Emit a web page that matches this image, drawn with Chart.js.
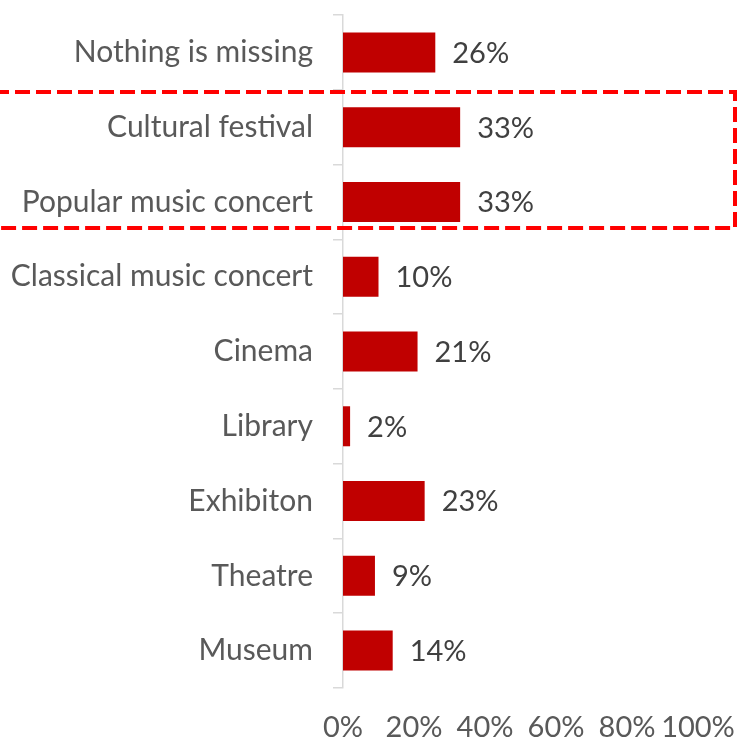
<!DOCTYPE html>
<html>
<head>
<meta charset="utf-8">
<script src="https://cdn.jsdelivr.net/npm/chart.js@4"></script>
<style>
  html, body { margin: 0; padding: 0; background: #ffffff; }
  #wrap { width: 740px; height: 743px; position: relative; }
</style>
</head>
<body>
<div id="wrap"><canvas id="chart"></canvas></div>
<script>
// Categories, top to bottom
const categories = [
  "Nothing is missing",
  "Cultural festival",
  "Popular music concert",
  "Classical music concert",
  "Cinema",
  "Library",
  "Exhibiton",
  "Theatre",
  "Museum"
];
// Share of respondents, percent
const shares = [26, 33, 33, 10, 21, 2, 23, 9, 14];
// Axis ticks, percent
const axisTicks = [0, 20, 40, 60, 80, 100];
// Categories grouped by the highlight frame
const highlighted = ["Cultural festival", "Popular music concert"];

const FONT = "Lato";
const FONT_SIZE = 29;

// Writes the value next to the end of each bar
const valueLabels = {
  id: "valueLabels",
  afterDatasetsDraw(chart) {
    const ctx = chart.ctx;
    const meta = chart.getDatasetMeta(0);
    ctx.save();
    ctx.font = FONT_SIZE + "px " + FONT;
    ctx.fillStyle = "#404040";
    ctx.textAlign = "left";
    ctx.textBaseline = "middle";
    meta.data.forEach((bar, i) => {
      ctx.fillText(shares[i] + "%", bar.x + 17, bar.y + 1);
    });
    ctx.restore();
  }
};

// Dashed red frame around the highlighted categories
const highlightFrame = {
  id: "highlightFrame",
  afterDraw(chart) {
    const y = chart.scales.y;
    const idx = highlighted.map(c => categories.indexOf(c));
    const first = Math.min(...idx), last = Math.max(...idx);
    const band = (y.getPixelForValue(1) - y.getPixelForValue(0));
    const top = y.getPixelForValue(first) - band * 0.47;
    const bottom = y.getPixelForValue(last) + band * 0.35;
    const ctx = chart.ctx;
    ctx.save();
    ctx.strokeStyle = "#FF0000";
    ctx.lineWidth = 4;
    ctx.setLineDash([15, 6]);
    ctx.beginPath();
    ctx.moveTo(-6, top);
    ctx.lineTo(735, top);
    ctx.lineTo(735, bottom);
    ctx.lineTo(-6, bottom);
    ctx.stroke();
    ctx.restore();
  }
};

// Keep axis sizes fixed and drop the automatic label overhang padding
function fixScale(scale, size) {
  if (scale.isHorizontal()) scale.height = size; else scale.width = size;
  scale.paddingLeft = scale.paddingRight = scale.paddingTop = scale.paddingBottom = 0;
}

new Chart(document.getElementById("chart"), {
  type: "bar",
  data: {
    labels: categories,
    datasets: [{
      data: shares,
      backgroundColor: "#C00000",
      borderWidth: 0,
      categoryPercentage: 1,
      barPercentage: 0.535
    }]
  },
  options: {
    indexAxis: "y",
    responsive: true,
    maintainAspectRatio: false,
    animation: false,
    layout: { padding: { top: 15, right: 42, left: 0, bottom: 0 } },
    plugins: {
      legend: { display: false },
      tooltip: { enabled: false }
    },
    scales: {
      x: {
        min: axisTicks[0],
        max: axisTicks[axisTicks.length - 1],
        afterBuildTicks(scale) {
          scale.ticks = axisTicks.map(v => ({ value: v }));
        },
        afterFit(scale) { fixScale(scale, 55); },
        grid: { display: false, drawTicks: false },
        border: { display: false },
        ticks: {
          padding: 22,
          color: "#595959",
          font: { family: FONT, size: FONT_SIZE },
          maxRotation: 0,
          autoSkip: false,
          callback: v => v + "%"
        }
      },
      y: {
        grid: {
          drawOnChartArea: false,
          drawTicks: true,
          tickLength: 10,
          color: "#D9D9D9",
          lineWidth: 1.5,
          offset: true
        },
        border: { display: true, color: "#D9D9D9", width: 1.5 },
        afterFit(scale) { fixScale(scale, 343); },
        ticks: {
          padding: 20,
          color: "#595959",
          autoSkip: false,
          font: { family: FONT, size: 30 }
        }
      }
    }
  },
  plugins: [valueLabels, highlightFrame]
});
</script>
</body>
</html>
